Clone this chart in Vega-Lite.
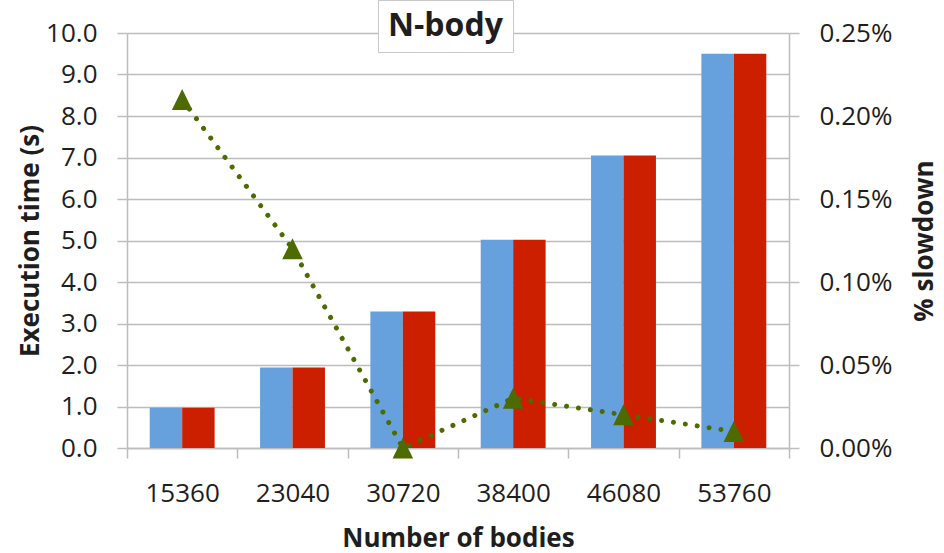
{
  "$schema": "https://vega.github.io/schema/vega-lite/v6.json",
  "width": 662,
  "height": 415,
  "autosize": {"type": "none"},
  "padding": {"left": 127, "top": 33, "right": 155, "bottom": 105},
  "background": "white",
  "config": {
    "view": {"stroke": null},
    "font": "Open Sans",
    "axis": {
      "labelFont": "Open Sans",
      "labelFontSize": 26,
      "labelColor": "#1e1e1e",
      "titleFont": "Open Sans",
      "titleFontSize": 26,
      "titleFontWeight": "bold",
      "titleColor": "#1e1e1e",
      "domainColor": "#bdbdbd",
      "domainWidth": 1.5,
      "tickColor": "#bdbdbd",
      "tickWidth": 1.5,
      "tickSize": 10,
      "gridColor": "#bdbdbd",
      "gridWidth": 1.5
    }
  },
  "datasets": {
    "times": [
      {"bodies": "15360", "build": "baseline", "time": 0.97},
      {"bodies": "15360", "build": "instrumented", "time": 0.97},
      {"bodies": "23040", "build": "baseline", "time": 1.94},
      {"bodies": "23040", "build": "instrumented", "time": 1.94},
      {"bodies": "30720", "build": "baseline", "time": 3.29},
      {"bodies": "30720", "build": "instrumented", "time": 3.29},
      {"bodies": "38400", "build": "baseline", "time": 5.02},
      {"bodies": "38400", "build": "instrumented", "time": 5.02},
      {"bodies": "46080", "build": "baseline", "time": 7.05},
      {"bodies": "46080", "build": "instrumented", "time": 7.05},
      {"bodies": "53760", "build": "baseline", "time": 9.5},
      {"bodies": "53760", "build": "instrumented", "time": 9.5}
    ],
    "overhead": [
      {"bodies": "15360", "benchmark": "N-body", "slowdown": 0.0021},
      {"bodies": "23040", "benchmark": "N-body", "slowdown": 0.0012},
      {"bodies": "30720", "benchmark": "N-body", "slowdown": 0.0},
      {"bodies": "38400", "benchmark": "N-body", "slowdown": 0.0003},
      {"bodies": "46080", "benchmark": "N-body", "slowdown": 0.0002},
      {"bodies": "53760", "benchmark": "N-body", "slowdown": 0.0001}
    ]
  },
  "layer": [
    {
      "data": {"name": "times"},
      "mark": {"type": "bar"},
      "encoding": {
        "x": {
          "field": "bodies",
          "type": "ordinal",
          "sort": null,
          "scale": {"paddingInner": 0, "paddingOuter": 0},
          "axis": {
            "title": "Number of bodies",
            "labelAngle": 0,
            "tickBand": "extent",
            "grid": false,
            "labelPadding": 22,
            "titlePadding": 19
          }
        },
        "xOffset": {
          "field": "build",
          "type": "nominal",
          "sort": ["baseline", "instrumented"],
          "scale": {"paddingInner": 0, "paddingOuter": 0.7}
        },
        "y": {
          "field": "time",
          "type": "quantitative",
          "scale": {"domain": [0, 10], "nice": false},
          "axis": {
            "title": "Execution time (s)",
            "values": [0, 1, 2, 3, 4, 5, 6, 7, 8, 9, 10],
            "format": ".1f",
            "grid": true,
            "labelPadding": 20,
            "titlePadding": 2
          }
        },
        "color": {
          "field": "build",
          "type": "nominal",
          "scale": {"domain": ["baseline", "instrumented"], "range": ["#66a1de", "#cc1f00"]},
          "legend": null
        }
      }
    },
    {
      "data": {"name": "overhead"},
      "encoding": {
        "x": {"field": "bodies", "type": "ordinal", "sort": null},
        "y": {
          "field": "slowdown",
          "type": "quantitative",
          "scale": {"domain": [0, 0.0025], "nice": false},
          "axis": {
            "title": "% slowdown",
            "orient": "right",
            "values": [0, 0.0005, 0.001, 0.0015, 0.002, 0.0025],
            "format": ".2%",
            "grid": false,
            "labelPadding": 20,
            "titlePadding": 20,
            "titleAngle": 270,
            "titleBaseline": "top"
          }
        }
      },
      "layer": [
        {
          "mark": {
            "type": "line",
            "color": "#4d6b00",
            "strokeWidth": 5,
            "strokeDash": [0.01, 12],
            "strokeCap": "round"
          }
        },
        {
          "mark": {"type": "point", "filled": true, "color": "#4d6b00", "opacity": 1, "size": 440},
          "encoding": {
            "shape": {
              "field": "benchmark",
              "type": "nominal",
              "scale": {"range": ["M0,-1L-0.98,1L0.98,1Z"]},
              "legend": {
                "title": null,
                "orient": "none",
                "legendX": 251,
                "legendY": -33,
                "padding": 10,
                "fillColor": "white",
                "strokeColor": "#c8c8c8",
                "symbolSize": 0,
                "symbolOpacity": 0,
                "symbolStrokeWidth": 0,
                "labelOffset": -32,
                "labelFont": "Open Sans",
                "labelFontSize": 32,
                "labelFontWeight": "bold",
                "labelColor": "#1e1e1e"
              }
            }
          }
        }
      ]
    }
  ],
  "resolve": {"scale": {"y": "independent"}}
}
